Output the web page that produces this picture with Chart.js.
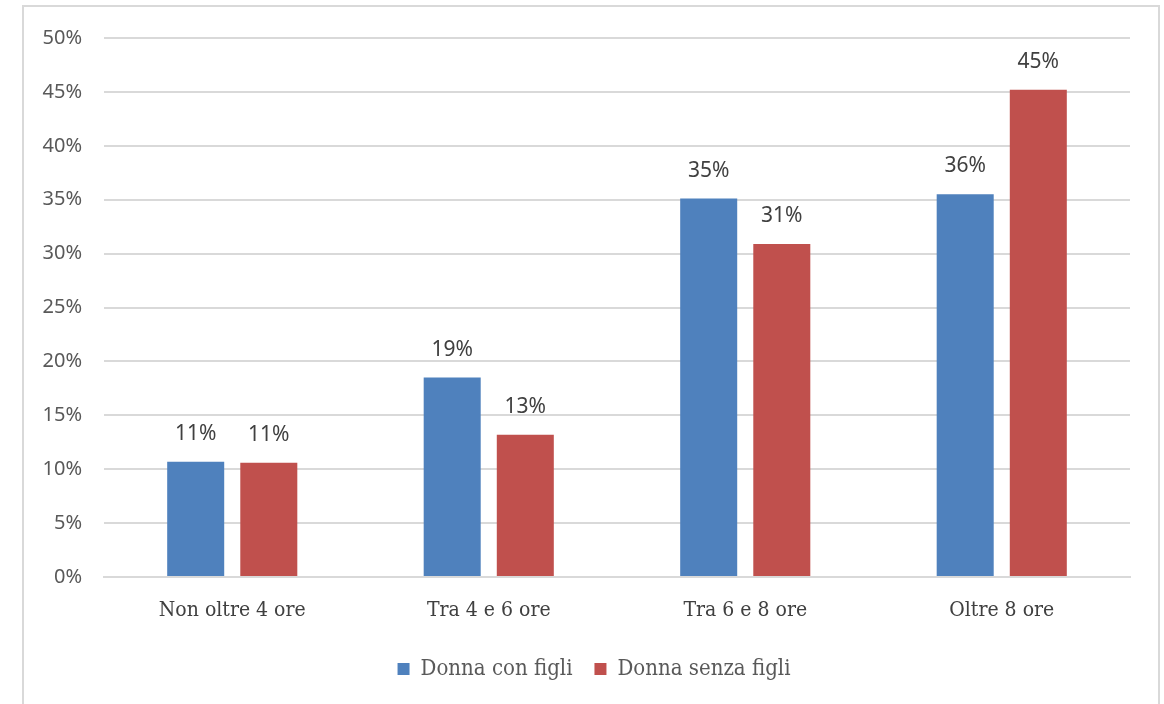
<!DOCTYPE html>
<html>
<head>
<meta charset="utf-8">
<script src="https://cdn.jsdelivr.net/npm/chart.js@4"></script>
<style>
  body { margin: 0; background: #fff; }
  #frame { position: absolute; left: 22px; top: 5px; width: 1134px; height: 720px; border: 2px solid #d9d9d9; }
  #wrap { position: absolute; left: 0; top: 0; width: 1164px; height: 704px; }
</style>
</head>
<body>
<div id="frame"></div>
<div id="wrap"><canvas id="hoursChart" width="1164" height="704"></canvas></div>
<script>
const categories = ['Non oltre 4 ore', 'Tra 4 e 6 ore', 'Tra 6 e 8 ore', 'Oltre 8 ore'];
const seriesNames = ['Donna con figli', 'Donna senza figli'];
const withChildren = [10.7, 18.5, 35.1, 35.5];
const withoutChildren = [10.6, 13.2, 30.9, 45.2];
const yTicks = [0, 5, 10, 15, 20, 25, 30, 35, 40, 45, 50];

const sansFont = "'Noto Sans', 'Open Sans', sans-serif";
const serifFont = "'DejaVu Serif Condensed', 'DejaVu Serif', serif";

// etichette sopra le barre
const valueLabels = {
    id: 'valueLabels',
    afterDatasetsDraw(chart) {
        const ctx = chart.ctx;
        ctx.save();
        ctx.font = '21px ' + sansFont;
        ctx.fillStyle = '#404040';
        ctx.textAlign = 'center';
        ctx.textBaseline = 'middle';
        chart.data.datasets.forEach((ds, i) => {
            chart.getDatasetMeta(i).data.forEach((bar, j) => {
                ctx.fillText(Math.round(ds.data[j]) + '%', bar.x, bar.y - 28);
            });
        });
        ctx.restore();
    }
};

// legenda un po' spostata a destra, come nell'originale
const legendShift = {
    id: 'legendShift',
    beforeDraw(chart) {
        chart.legend.left += 29;
        chart.legend.right += 29;
    }
};

new Chart(document.getElementById('hoursChart'), {
    type: 'bar',
    data: {
        labels: categories,
        datasets: [
            { label: seriesNames[0], data: withChildren, backgroundColor: '#4f81bd' },
            { label: seriesNames[1], data: withoutChildren, backgroundColor: '#c0504d' }
        ]
    },
    options: {
        responsive: false,
        animation: false,
        layout: { padding: { top: 38, right: 34, left: 0, bottom: 14 } },
        datasets: { bar: { categoryPercentage: 0.57, barPercentage: 0.78 } },
        scales: {
            x: {
                grid: { display: false },
                border: { color: '#d9d9d9', width: 2 },
                ticks: { color: '#404040', padding: 13, font: { family: serifFont, size: 21 } },
                afterFit(scale) { scale.height = 59; }
            },
            y: {
                min: 0,
                max: 50,
                afterBuildTicks(scale) { scale.ticks = yTicks.map(v => ({ value: v })); },
                grid: { color: '#d9d9d9', lineWidth: 2, drawTicks: false },
                border: { display: false },
                ticks: {
                    color: '#595959',
                    padding: 22,
                    font: { family: sansFont, size: 20 },
                    callback: v => v + '%'
                },
                afterFit(scale) { scale.width = 104; }
            }
        },
        plugins: {
            legend: {
                position: 'bottom',
                labels: {
                    boxWidth: 12,
                    boxHeight: 12,
                    padding: 22,
                    color: '#595959',
                    font: { family: serifFont, size: 22 }
                }
            },
            tooltip: { enabled: false }
        }
    },
    plugins: [valueLabels, legendShift]
});
</script>
</body>
</html>
